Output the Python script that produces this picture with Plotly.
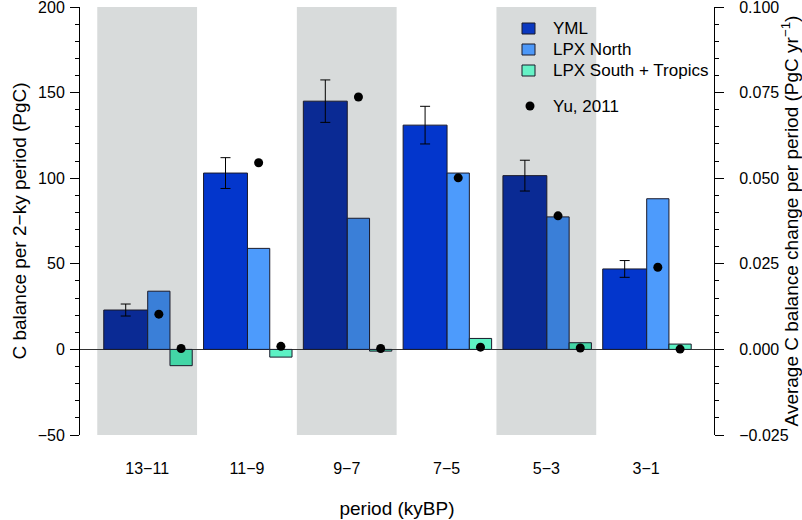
import plotly.graph_objects as go

periods = ["13−11", "11−9", "9−7", "7−5", "5−3", "3−1"]
shaded = [True, False, True, False, True, False]

yml = [23, 103, 145, 131, 101.5, 47]
yml_err = [3.5, 9, 12.4, 11, 9, 4.9]
lpx_north = [34, 59, 76.6, 103, 77.4, 88]
lpx_south = [-9.5, -4.5, -1, 6.4, 3.9, 3.1]
yu_north = [20.6, 109, 147.4, 100.2, 78, 48]
yu_south = [0.5, 1.8, 0.5, 1.3, 0.8, 0.2]

legend_labels = ["YML", "LPX North", "LPX South + Tropics", "Yu, 2011"]

C_YML = ("#0a2a94", "#0336cc")
C_N = ("#3a7fd8", "#4d9bfc")
C_S = ("#43d6a6", "#5df2c4")
C_LEG = ["#0a38c0", "#4d98f8", "#66f2c6"]

def cols(pair):
    return [pair[0] if s else pair[1] for s in shaded]

idx = list(range(len(periods)))
x_yml = [i + 0.285 for i in idx]
x_n = [i + 0.617 for i in idx]
x_s = [i + 0.84 for i in idx]

FONT = "Liberation Sans, Arial, Helvetica, sans-serif"
line = dict(color="#1a1a2a", width=1)

W, H = 802, 520
ML, MR, MT, MB = 80, 88, 7, 85
PW, PH = W - ML - MR, H - MT - MB

def px(xp):
    return (xp - ML) / PW

def py(yp):
    return 1 - (yp - MT) / PH

fig = go.Figure()
fig.add_trace(go.Bar(x=x_yml, y=yml, width=0.44, marker=dict(color=cols(C_YML), line=line),
                     error_y=dict(type="data", array=yml_err, color="black", thickness=1, width=5),
                     showlegend=False))
fig.add_trace(go.Bar(x=x_n, y=lpx_north, width=0.223, marker=dict(color=cols(C_N), line=line),
                     showlegend=False))
fig.add_trace(go.Bar(x=x_s, y=lpx_south, width=0.223, marker=dict(color=cols(C_S), line=line),
                     showlegend=False))
fig.add_trace(go.Scatter(x=x_n + x_s, y=yu_north + yu_south, mode="markers",
                         marker=dict(color="black", size=9), showlegend=False))
fig.add_trace(go.Scatter(x=[None], y=[None], yaxis="y2", showlegend=False))

for i, s in enumerate(shaded):
    if s:
        fig.add_shape(type="rect", xref="x", yref="y", x0=i, x1=i + 1, y0=-50, y1=200,
                      fillcolor="#d8dbdb", line=dict(width=0), layer="below")

# manual legend (R-style)
rows = [28.5, 49.5, 70.5, 106]
for k, lab in enumerate(legend_labels):
    yc = rows[k]
    if k < 3:
        fig.add_shape(type="rect", xref="paper", yref="paper",
                      x0=px(522), x1=px(535), y0=py(yc + 5.5), y1=py(yc - 5.5),
                      fillcolor=C_LEG[k], line=dict(color="#1a1a2a", width=1))
    else:
        fig.add_shape(type="circle", xref="paper", yref="paper",
                      x0=px(525.5), x1=px(534.5), y0=py(yc + 4.5), y1=py(yc - 4.5),
                      fillcolor="black", line=dict(color="black", width=0))
    fig.add_annotation(text=lab, xref="paper", yref="paper", x=px(551), y=py(yc),
                       xanchor="left", yanchor="middle", showarrow=False,
                       font=dict(size=17, family=FONT, color="black"))

fig.update_layout(
    width=W, height=H,
    margin=dict(l=ML, r=MR, t=MT, b=MB, autoexpand=False),
    paper_bgcolor="white", plot_bgcolor="white",
    barmode="overlay", showlegend=False,
    font=dict(family=FONT, size=16, color="black"),
    xaxis=dict(range=[-0.173, 6.18], tickvals=[i + 0.5 for i in idx], ticktext=periods,
               ticks="", showline=False, showgrid=False, zeroline=False,
               ticklabelstandoff=22,
               title=dict(text="period (kyBP)", standoff=25), automargin=False),
    yaxis=dict(range=[-50, 200], tickvals=[-50, 0, 50, 100, 150, 200], ticks="outside",
               ticklen=9, tickwidth=1, tickcolor="black", ticklabeloverflow="allow",
               minor=dict(dtick=10, ticks="outside", ticklen=4, tickwidth=1, tickcolor="black", showgrid=False),
               showline=True, linecolor="black", linewidth=1, showgrid=False,
               zeroline=True, zerolinecolor="#333333", zerolinewidth=1,
               ticklabelstandoff=2,
               title=dict(text="C balance per 2−ky period (PgC)", standoff=6), automargin=False),
    yaxis2=dict(overlaying="y", side="right", anchor="x", range=[-0.025, 0.1],
                tickvals=[-0.025, 0, 0.025, 0.05, 0.075, 0.1], tickformat=".3f",
                ticks="outside", ticklen=9, tickwidth=1, tickcolor="black", ticklabeloverflow="allow",
                minor=dict(dtick=0.005, ticks="outside", ticklen=4, tickwidth=1, tickcolor="black", showgrid=False),
                showline=True, linecolor="black", linewidth=1, showgrid=False, zeroline=False,
                ticklabelstandoff=12,
                title=dict(text="Average C balance change per period (PgC yr<sup>−1</sup>)", standoff=4),
                automargin=False),
)

fig.write_html("out.html", post_script="document.body.style.margin='0';",
               config={"displayModeBar": False})
